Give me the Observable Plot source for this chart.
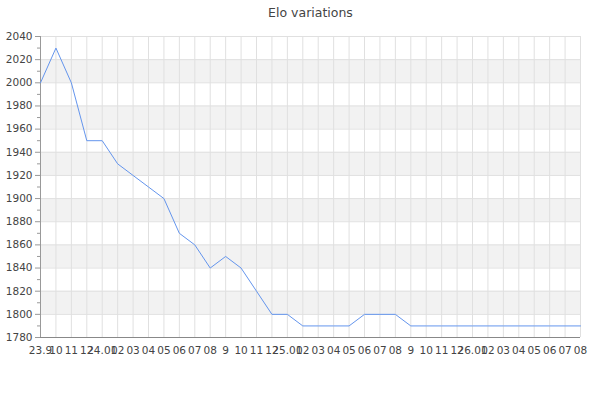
<!DOCTYPE html>
<html>
<head>
<meta charset="utf-8">
<script src="https://cdn.jsdelivr.net/npm/d3@7"></script>
<script src="https://cdn.jsdelivr.net/npm/@observablehq/plot@0.6"></script>
<style>
  html, body { margin: 0; padding: 0; background: #fff; }
  #chart svg { font-family: "DejaVu Sans", sans-serif; }
</style>
</head>
<body>
<div id="chart"></div>
<script>
const title = "Elo variations";
const labels = ["23.9","10","11","12","24.01","02","03","04","05","06","07","08","9","10","11","12",
                "25.01","02","03","04","05","06","07","08","9","10","11","12",
                "26.01","02","03","04","05","06","07","08"];
const elo = [2000,2030,2000,1950,1950,1930,1920,1910,1900,1870,1860,1840,1850,1840,1820,1800,
             1800,1790,1790,1790,1790,1800,1800,1800,1790,1790,1790,1790,
             1790,1790,1790,1790,1790,1790,1790,1790];
const yMajor = d3.range(1780, 2041, 20);
const yMinor = d3.range(1790, 2040, 20);
const bands = [1800, 1840, 1880, 1920, 1960, 2000];

const idx = labels.map((_, i) => i);
const data = idx.map(i => ({i, v: elo[i]}));

const chart = Plot.plot({
  width: 600,
  height: 400,
  marginTop: 36,
  marginBottom: 63,
  marginLeft: 40,
  marginRight: 20,
  style: {fontSize: "10.5px", color: "#444", background: "#fff"},
  x: {type: "linear", domain: [0, labels.length - 1], axis: null},
  y: {domain: [1780, 2040], axis: null},
  marks: [
    Plot.rect(bands, {y1: d => d, y2: d => d + 20, fill: "#f2f2f2"}),
    Plot.ruleY(yMajor, {stroke: "#e0e0e0"}),
    Plot.ruleX(idx, {y1: 1780, y2: 2040, stroke: "#e0e0e0"}),
    Plot.ruleX([0], {y1: 1780, y2: 2040, stroke: "#999"}),
    Plot.ruleY([1780], {stroke: "#888"}),
    Plot.axisY({ticks: yMajor, tickSize: 5, tickPadding: 3, tickFormat: d => String(d), stroke: "#999", fill: "#444", label: null}),
    Plot.axisY({ticks: yMinor, tickSize: 3, tickFormat: () => "", stroke: "#999", label: null}),
    Plot.axisX({ticks: idx, tickSize: 0, tickPadding: 9, tickFormat: i => labels[i], fill: "#444", label: null}),
    Plot.line(data, {x: "i", y: "v", stroke: "#6495ed", strokeWidth: 1}),
    Plot.text([title], {frameAnchor: "top", dy: -28, fontSize: 12.5, fill: "#444"})
  ]
});
document.getElementById("chart").appendChild(chart);
</script>
</body>
</html>
